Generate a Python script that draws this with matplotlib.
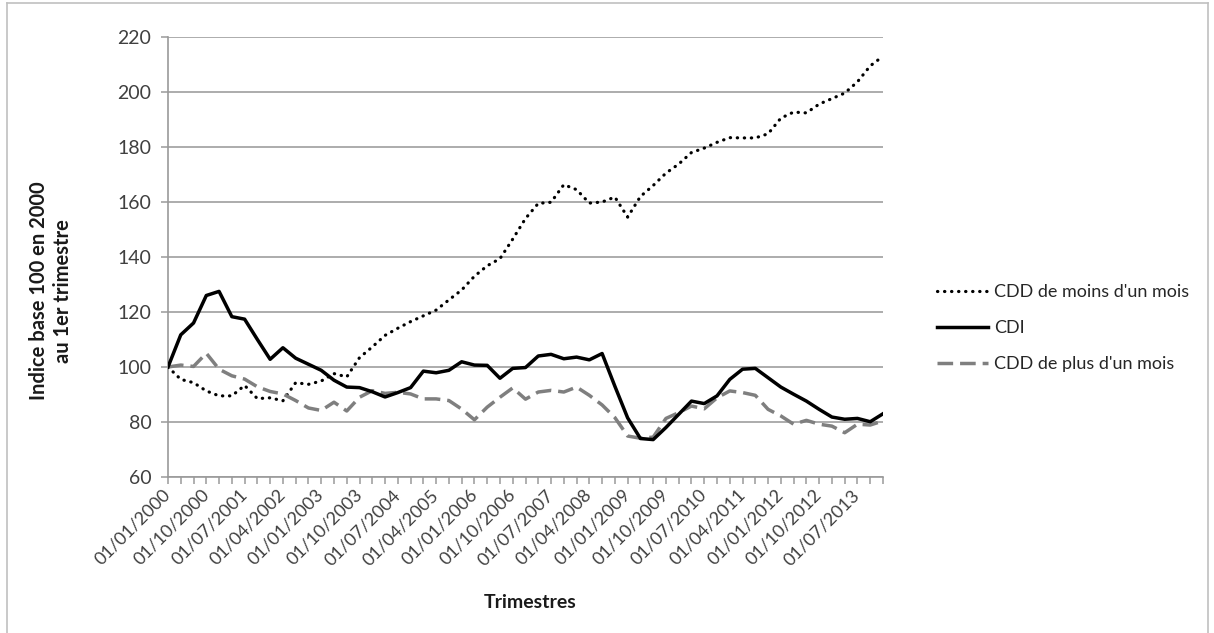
import matplotlib
matplotlib.use("Agg")
import matplotlib.pyplot as plt
from matplotlib.lines import Line2D
import pandas as pd

plt.rcParams['font.family'] = ['Lato', 'DejaVu Sans']

# quarters 2000Q1 .. 2014Q1
quarters = pd.date_range("2000-01-01", periods=57, freq="QS").strftime("%d/%m/%Y").tolist()

cdd_moins = [100, 95.5, 94.3, 91.3, 89.5, 89.5, 93.3, 88.5, 88.8, 87.7,
             94.3, 93.7, 94.9, 97.6, 96.4, 103.4, 107.3, 111.5, 114.1, 116.5,
             118.6, 120.7, 124.4, 128.0, 133.0, 136.8, 139.4, 146.5, 154.0, 159.5,
             159.9, 166.3, 164.5, 159.6, 160.0, 161.8, 154.5, 162.0, 166.0, 170.5,
             173.8, 178.0, 179.6, 181.7, 183.4, 183.3, 183.3, 184.8, 190.5, 192.7,
             192.4, 195.6, 197.6, 199.6, 203.7, 209.5, 213.0]

cdi = [100, 111.7, 116, 126, 127.5, 118.3, 117.4, 110, 102.8, 107,
       103.2, 101, 98.8, 95.2, 92.7, 92.5, 91, 89.1, 90.7, 92.5,
       98.5, 97.9, 98.8, 101.9, 100.7, 100.6, 95.9, 99.5, 99.8, 104,
       104.6, 103, 103.6, 102.6, 104.9, 93, 81.5, 74, 73.6, 78,
       82.8, 87.6, 86.7, 89.5, 95.5, 99.2, 99.5, 96.1, 92.7, 90.1,
       87.6, 84.6, 81.8, 81, 81.3, 80.1, 83]

cdd_plus = [100, 100.7, 100.2, 105, 99.2, 96.8, 95.6, 92.8, 91.1, 90.2,
            87.8, 85.1, 84.2, 87.2, 84, 89, 91.4, 90.4, 90.8, 90.2,
            88.4, 88.4, 87.8, 84.7, 80.8, 85.4, 89, 92.4, 88.3, 90.9,
            91.5, 90.9, 92.7, 89.7, 86.2, 81.6, 74.9, 74.1, 74.5, 81.3,
            83.4, 85.8, 84.8, 88.8, 91.3, 90.7, 89.7, 84.6, 82.2, 79.2,
            80.6, 79.2, 78.5, 76.1, 79.2, 78.9, 80.4]

W, H = 1214, 633
fig = plt.figure(figsize=(W / 100, H / 100), dpi=100)
ax = fig.add_axes([168 / W, 1 - 477 / H, (883 - 168) / W, (477 - 37) / H])

x = list(range(len(quarters)))
ax.plot(x, cdd_moins, color='black', lw=2.3, linestyle=(0, (0.1, 2.1)),
        dash_capstyle='round', label="CDD de moins d'un mois", zorder=3)
ax.plot(x, cdi, color='black', lw=2.5, label="CDI", zorder=4)
ax.plot(x, cdd_plus, color='#7f7f7f', lw=2.5, linestyle=(0, (4.5, 2)),
        label="CDD de plus d'un mois", zorder=3)

ax.set_xlim(0, len(quarters) - 1)
ax.set_ylim(60, 220)
ax.set_yticks(range(60, 221, 20))
ax.yaxis.grid(True, color='#a6a6a6', lw=1.3)
ax.set_axisbelow(True)

ax.set_xticks(x)
ax.set_xticklabels([q if i % 3 == 0 else "" for i, q in enumerate(quarters)],
                   rotation=45, ha='right', va='center', rotation_mode='anchor')

for s in ['top', 'right']:
    ax.spines[s].set_visible(False)
for s in ['left', 'bottom']:
    ax.spines[s].set_color('#9a9a9a')
    ax.spines[s].set_linewidth(1.2)
ax.tick_params(axis='y', length=5, width=1.1, color='#9a9a9a', pad=7,
               labelsize=14, labelcolor='#404040')
ax.tick_params(axis='x', length=5, width=1.1, color='#9a9a9a', pad=6,
               labelsize=13, labelcolor='#404040')

fig.text(51 / W, 1 - 291 / H, "Indice base 100 en 2000\nau 1er trimestre",
         rotation=90, ha='center', va='center', fontsize=14.5, fontweight='bold',
         color='#1a1a1a', multialignment='center', linespacing=1.2)
fig.text(530 / W, 1 - 603 / H, "Trimestres", ha='center', va='center',
         fontsize=14, fontweight='bold', color='#1a1a1a')

fig.legend(loc='center left', bbox_to_anchor=(937 / W, 1 - 328 / H),
           frameon=False, fontsize=13, handlelength=2.8, handletextpad=0.35,
           labelspacing=1.1, borderpad=0, borderaxespad=0, labelcolor='#262626')

# chart area frame
frame_c = '#c0c0c0'
fig.add_artist(Line2D([7 / W, 7 / W], [0, 1 - 3 / H], color=frame_c, lw=1.2))
fig.add_artist(Line2D([7 / W, 1208 / W], [1 - 3 / H, 1 - 3 / H], color=frame_c, lw=1.2))
fig.add_artist(Line2D([1208 / W, 1208 / W], [0, 1 - 3 / H], color=frame_c, lw=1.2))

fig.savefig("out.png", dpi=100, facecolor='white')
